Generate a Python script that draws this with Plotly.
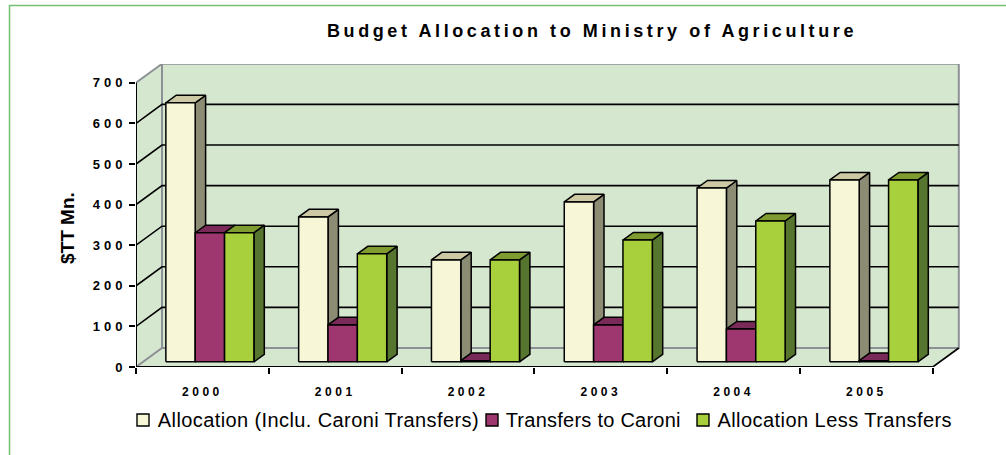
import plotly.graph_objects as go

categories = ["2000", "2001", "2002", "2003", "2004", "2005"]
allocation = [638, 357, 251, 394, 428, 448]
transfers = [318, 91, 3, 91, 81, 3]
less_transfers = [318, 266, 251, 300, 347, 448]
series_names = ["Allocation (Inclu. Caroni Transfers)", "Transfers to Caroni", "Allocation Less Transfers"]
y_ticks = [0, 100, 200, 300, 400, 500, 600, 700]

W, H = 1006, 455
L, R, T, B = 136, 960, 64, 367
CAT_PX = 132.8
UNIT_PX = 0.406
XMAX = (R - L) / CAT_PX
YMAX = (B - T) / UNIT_PX
DX = 26.0 / CAT_PX
DY = 19.0 / UNIT_PX

FRONT_COL = ["#f7f7d8", "#9e3770", "#a8cf3c"]
SIDE_COL = ["#8b8c73", "#6b2050", "#56752f"]
TOP_COL = ["#cdc9a5", "#7a2a58", "#7e9c30"]
WALL = "#d6e7d0"
GRAY = "#8d9095"
BLACK = "#000000"
FONT = "Liberation Sans"


def pt(x, v, d):
    return x + d * DX, v + d * DY


def poly(points, xs, ys):
    for p in points:
        xs.append(p[0]); ys.append(p[1])
    xs.append(points[0][0]); ys.append(points[0][1])
    xs.append(None); ys.append(None)


fig = go.Figure()


def fill(xs, ys, color, name, line=BLACK, lw=1.5):
    fig.add_trace(go.Scatter(x=xs, y=ys, mode="lines", fill="toself", fillcolor=color,
                             line=dict(color=line, width=lw), name=name, showlegend=False,
                             hoverinfo="name", cliponaxis=False))


# walls and floor
xs, ys = [], []
poly([pt(0, 0, 0), pt(6, 0, 0), pt(6, 0, 1), pt(0, 0, 1)], xs, ys)
fill(xs, ys, WALL, "floor", WALL, 0)
xs, ys = [], []
poly([pt(0, 0, 0), pt(0, 0, 1), pt(0, 700, 1), pt(0, 700, 0)], xs, ys)
fill(xs, ys, WALL, "side wall", WALL, 0)
xs, ys = [], []
poly([pt(0, 0, 1), pt(6, 0, 1), pt(6, 700, 1), pt(0, 700, 1)], xs, ys)
fill(xs, ys, WALL, "back wall", GRAY, 2)

# gridlines
gx, gy = [], []
for v in y_ticks[1:-1]:
    a, b, c = pt(0, v, 0), pt(0, v, 1), pt(6, v, 1)
    gx += [a[0], b[0], c[0], None]
    gy += [a[1], b[1], c[1], None]
fig.add_trace(go.Scatter(x=gx, y=gy, mode="lines", line=dict(color=BLACK, width=1.6),
                         showlegend=False, hoverinfo="skip", cliponaxis=False))

# gray wall edges
a, b, c = pt(0, 0, 0), pt(0, 0, 1), pt(6, 0, 1)
d, e = pt(0, 700, 0), pt(0, 700, 1)
fig.add_trace(go.Scatter(x=[a[0], b[0], c[0], None, d[0], e[0]], y=[a[1], b[1], c[1], None, d[1], e[1]],
                         mode="lines", line=dict(color=GRAY, width=2), showlegend=False,
                         hoverinfo="skip", cliponaxis=False))
a, b = pt(6, 0, 0), pt(6, 0, 1)
fig.add_trace(go.Scatter(x=[a[0], b[0]], y=[a[1], b[1]], mode="lines", line=dict(color=BLACK, width=1.6),
                         showlegend=False, hoverinfo="skip", cliponaxis=False))

# bars
GAP = 0.172
BW = 0.221
D0, D1 = 0.27, 0.67
for s, values in enumerate([allocation, transfers, less_transfers]):
    fx, fy, sx, sy, tx, ty = [], [], [], [], [], []
    for i, v in enumerate(values):
        x0 = i + GAP + s * BW
        x1 = x0 + BW
        poly([pt(x1, 0, D0), pt(x1, 0, D1), pt(x1, v, D1), pt(x1, v, D0)], sx, sy)
        poly([pt(x0, v, D0), pt(x1, v, D0), pt(x1, v, D1), pt(x0, v, D1)], tx, ty)
        poly([pt(x0, 0, D0), pt(x1, 0, D0), pt(x1, v, D0), pt(x0, v, D0)], fx, fy)
    fill(sx, sy, SIDE_COL[s], series_names[s])
    fill(tx, ty, TOP_COL[s], series_names[s])
    fill(fx, fy, FRONT_COL[s], series_names[s])

# axis lines
fig.add_trace(go.Scatter(x=[0, 0, 6], y=[700, 0, 0], mode="lines", line=dict(color=BLACK, width=2),
                         showlegend=False, hoverinfo="skip", cliponaxis=False))


def X(p):
    return (p - L) / (R - L)


def Y(p):
    return (B - p) / (B - T)


shapes = [
    dict(type="line", xref="paper", yref="paper", x0=X(9.5), x1=X(9.5), y0=Y(5), y1=Y(455),
         line=dict(color="#72c072", width=1.5)),
    dict(type="line", xref="paper", yref="paper", x0=X(9.5), x1=X(1006), y0=Y(5.5), y1=Y(5.5),
         line=dict(color="#72c072", width=1.5)),
]
annotations = [dict(text="<b>$TT Mn.</b>", xref="paper", yref="paper", x=X(67), y=Y(228), textangle=-90,
                    showarrow=False, xanchor="center", yanchor="middle",
                    font=dict(family=FONT, size=19, color=BLACK))]

swatch_px = [137, 486, 697]
text_px = [157, 505, 716]
spacing = [0.4, 0.25, 0.45]
for i, name in enumerate(series_names):
    shapes.append(dict(type="rect", xref="paper", yref="paper", x0=X(swatch_px[i]), x1=X(swatch_px[i] + 12),
                       y0=Y(414), y1=Y(426), fillcolor=FRONT_COL[i], line=dict(color=BLACK, width=1.4)))
    annotations.append(dict(text=name, xref="paper", yref="paper", x=X(text_px[i]), y=Y(419.5), showarrow=False,
                            xanchor="left", yanchor="middle", xshift=len(name) * spacing[i] / 2 - 1,
                            font=dict(family=FONT, size=20, color=BLACK)))

fig.update_layout(
    width=W, height=H, autosize=False,
    margin=dict(l=L, r=W - R, t=T, b=H - B),
    paper_bgcolor="white", plot_bgcolor="white", showlegend=False,
    title=dict(text="<b>Budget Allocation to Ministry of Agriculture</b>", x=592 / W, y=1 - 31 / H,
               xref="container", yref="container", xanchor="center", yanchor="middle",
               font=dict(family=FONT, size=18, color=BLACK)),
    shapes=shapes, annotations=annotations,
    xaxis=dict(range=[0, XMAX], showgrid=False, zeroline=False, showline=False,
               tickmode="array", tickvals=[i + 0.5 for i in range(6)], ticktext=categories,
               ticks="outside", ticklen=14, tickcolor="rgba(0,0,0,0)", tickwidth=1,
               tickfont=dict(family=FONT, size=12, color=BLACK, weight="bold"),
               minor=dict(tickmode="array", tickvals=list(range(7)), ticks="outside", ticklen=6,
                          tickwidth=2, tickcolor=BLACK, showgrid=False)),
    yaxis=dict(range=[0, YMAX], showgrid=False, zeroline=False, showline=False,
               tickmode="array", tickvals=y_ticks, ticks="outside", ticklen=6, tickwidth=2, tickcolor=BLACK,
               tickfont=dict(family=FONT, size=13, color=BLACK, weight="bold")),
)

post = """
document.body.style.margin = '0';
document.body.style.overflow = 'hidden';
var root = document.getElementById('{plot_id}');
root.querySelectorAll('.gtitle').forEach(function (t) { t.style.letterSpacing = '3.6px'; });
root.querySelectorAll('.xtick text').forEach(function (t) { t.style.letterSpacing = '3.5px'; });
root.querySelectorAll('.ytick text').forEach(function (t) { t.style.letterSpacing = '4px'; });
var sp = {"Allocation (Inclu. Caroni Transfers)": 0.4, "Transfers to Caroni": 0.25, "Allocation Less Transfers": 0.45};
root.querySelectorAll('.annotation-text').forEach(function (t) {
  if (sp[t.textContent] !== undefined) { t.style.letterSpacing = sp[t.textContent] + 'px'; }
});
"""
fig.write_html("out.html", post_script=post, config={"displayModeBar": False})
